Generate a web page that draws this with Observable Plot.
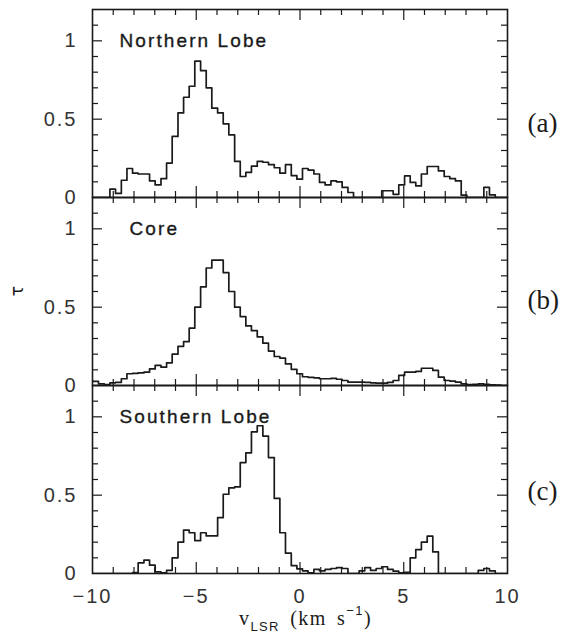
<!DOCTYPE html>
<html><head><meta charset="utf-8">
<script src="https://cdn.jsdelivr.net/npm/d3@7"></script>
<script src="https://cdn.jsdelivr.net/npm/@observablehq/plot@0.6"></script>
<style>body{margin:0;background:#fff}#chart svg{display:block}</style>
</head><body><div id="chart"></div>
<script>
// channel (bin) edges in km/s, last value closes the last bin
const velocityEdges = [-10.25,-9.98,-9.71,-9.43,-9.16,-8.89,-8.61,-8.34,-8.07,-7.80,-7.52,-7.25,-6.98,-6.70,-6.43,-6.16,-5.88,-5.61,-5.34,-5.07,-4.79,-4.52,-4.25,-3.97,-3.70,-3.43,-3.15,-2.88,-2.61,-2.34,-2.06,-1.79,-1.52,-1.24,-0.97,-0.70,-0.42,-0.15,0.12,0.39,0.67,0.94,1.21,1.49,1.76,2.03,2.31,2.58,2.85,3.12,3.40,3.67,3.94,4.22,4.49,4.76,5.04,5.31,5.58,5.85,6.13,6.40,6.67,6.95,7.22,7.49,7.77,8.04,8.31,8.59,8.86,9.13,9.41,9.68,9.95,10.22];
const tauNorth = [0,0,0,0,0.053,0.026,0.11,0.185,0.155,0.15,0.15,0.106,0.08,0.12,0.22,0.39,0.54,0.64,0.71,0.87,0.81,0.70,0.57,0.54,0.47,0.40,0.23,0.134,0.16,0.20,0.23,0.225,0.21,0.19,0.155,0.21,0.14,0.117,0.185,0.175,0.15,0.096,0.08,0.106,0.10,0.064,0.032,0,0,0,0,0,0.043,0.043,0.02,0.08,0.138,0.096,0.074,0.15,0.198,0.198,0.17,0.134,0.12,0.106,0.015,0,0,0,0.064,0.017,0,0,0];
const tauCore = [0.03,0.026,0.01,0.005,0.017,0.02,0.043,0.075,0.078,0.08,0.085,0.106,0.128,0.117,0.145,0.2,0.25,0.28,0.366,0.5,0.63,0.75,0.80,0.80,0.72,0.60,0.50,0.44,0.38,0.35,0.31,0.27,0.22,0.185,0.175,0.138,0.103,0.075,0.056,0.052,0.049,0.043,0.043,0.045,0.04,0.032,0.021,0.021,0.021,0.02,0.017,0.015,0.015,0.02,0.032,0.064,0.085,0.085,0.09,0.11,0.11,0.096,0.053,0.032,0.028,0.022,0.01,0.005,0.008,0.01,0.008,0.004,0.002,0,0];
const tauSouth = [0,0,0,0,0,0,0,0,0.006,0.068,0.085,0.053,0.01,0.004,0.02,0.1,0.2,0.277,0.26,0.21,0.26,0.24,0.24,0.357,0.506,0.547,0.553,0.708,0.77,0.904,0.943,0.877,0.74,0.479,0.26,0.13,0.05,0.03,0.017,0.004,0.026,0.017,0.026,0.032,0.038,0.032,0,0,0.017,0.038,0.02,0.032,0.043,0.026,0.015,0.004,0.008,0.1,0.153,0.2,0.238,0.138,0,0,0,0,0,0,0,0.02,0.032,0.017,0,0,0];

const panelKeys = ["a", "b", "c"];
const panelNames = ["Northern Lobe", "Core", "Southern Lobe"];
const panelTags = ["(a)", "(b)", "(c)"];
const xTickLabels = [-10, -5, 0, 5, 10];
const xTicksMajor = [-5, 0, 5];
const xTicksMinor = [-9, -8, -7, -6, -4, -3, -2, -1, 1, 2, 3, 4, 6, 7, 8, 9];
const yTickLabels = [0, 0.5, 1];
const yTicksMajor = [0.5, 1];
const yTicksMinor = [0.1, 0.2, 0.3, 0.4, 0.6, 0.7, 0.8, 0.9, 1.1];

// layout
const W = 576, H = 634, mL = 92, mR = 69, mT = 9, mB = 61;
const panelH = (H - mT - mB) / 3, plotW = W - mL - mR;
const ink = "#1a1a1a";

const seriesList = [tauNorth, tauCore, tauSouth];
const rows = [];
seriesList.forEach((s, p) => {
  velocityEdges.forEach((v, k) => {
    rows.push({panel: panelKeys[p], v, tau: s[Math.min(k, s.length - 1)]});
  });
});

const fmt = d => d < 0 ? "\u2212" + Math.abs(d) : String(d);

const marks = [
  Plot.line(rows, {x: "v", y: "tau", fy: "panel", curve: "step-after", stroke: ink, strokeWidth: 1.7, clip: true}),
  // inward ticks
  Plot.tickX(xTicksMinor, {x: d => d, insetTop: panelH - 6, stroke: ink, strokeWidth: 1.2}),
  Plot.tickX(xTicksMinor, {x: d => d, insetBottom: panelH - 6, stroke: ink, strokeWidth: 1.2}),
  Plot.tickX(xTicksMajor, {x: d => d, insetTop: panelH - 11, stroke: ink, strokeWidth: 1.2}),
  Plot.tickX(xTicksMajor, {x: d => d, insetBottom: panelH - 11, stroke: ink, strokeWidth: 1.2}),
  Plot.tickY(yTicksMinor, {y: d => d, insetRight: plotW - 6, stroke: ink, strokeWidth: 1.2}),
  Plot.tickY(yTicksMinor, {y: d => d, insetLeft: plotW - 6, stroke: ink, strokeWidth: 1.2}),
  Plot.tickY(yTicksMajor, {y: d => d, insetRight: plotW - 10, stroke: ink, strokeWidth: 1.2}),
  Plot.tickY(yTicksMajor, {y: d => d, insetLeft: plotW - 10, stroke: ink, strokeWidth: 1.2}),
  Plot.frame({stroke: ink, strokeWidth: 1.6}),
  Plot.axisX(xTickLabels, {tickSize: 0, tickPadding: 15, tickFormat: fmt, fontSize: 20, label: null, fill: "#333"}),
  Plot.axisY(yTickLabels, {tickSize: 0, tickPadding: 15, tickFormat: fmt, fontSize: 20, label: null, fill: "#333"})
];
const nameDx = [27, 37, 27];
const tagDy = [20, 9, 12];
panelKeys.forEach((k, i) => {
  marks.push(Plot.text([panelNames[i]], {fy: [k], frameAnchor: "top-left", textAnchor: "start", dx: nameDx[i], dy: 24, fontSize: 19, fill: ink, stroke: ink, strokeWidth: 0.35}));
  marks.push(Plot.text([panelTags[i]], {fy: [k], frameAnchor: "right", textAnchor: "start", dx: 20, dy: tagDy[i], fontSize: 27, fontFamily: "Liberation Serif, serif", fill: ink}));
});

const chart = Plot.plot({
  width: W, height: H,
  marginLeft: mL, marginRight: mR, marginTop: mT, marginBottom: mB,
  style: {fontFamily: "Liberation Sans, Arial, sans-serif", background: "#fff", color: ink},
  x: {domain: [-10, 10]},
  y: {domain: [0, 1.2]},
  fy: {domain: panelKeys, axis: null, paddingInner: 0, paddingOuter: 0},
  marks
});
document.getElementById("chart").appendChild(chart);

const svg = d3.select(chart);
const tickLabelSet = new Set([...xTickLabels, ...yTickLabels].map(fmt));
svg.selectAll("text").each(function () {
  const t = this.textContent;
  if (panelNames.includes(t)) d3.select(this).style("letter-spacing", "2.1px");
  else if (tickLabelSet.has(t)) d3.select(this).style("letter-spacing", "2px");
});

// y-axis title: tau (rotated)
svg.append("text")
  .attr("transform", "translate(18,291) rotate(-90)")
  .attr("text-anchor", "middle").attr("dy", "0.32em")
  .attr("font-family", "DejaVu Sans, sans-serif").attr("font-size", 17).attr("fill", ink)
  .text("\u03C4");

// x-axis title: v_LSR (km s^-1)
const xl = svg.append("text")
  .attr("x", 239).attr("y", 625).attr("text-anchor", "start")
  .attr("font-family", "Liberation Serif, serif").attr("font-size", 20).attr("fill", ink)
  .style("letter-spacing", "1.4px").style("word-spacing", "4px");
xl.append("tspan").text("v");
xl.append("tspan").attr("font-family", "Liberation Sans, sans-serif").attr("font-size", 13).attr("dy", 6).text("LSR");
xl.append("tspan").attr("dy", -6).text(" (km s");
xl.append("tspan").attr("font-family", "Liberation Sans, sans-serif").attr("font-size", 13).attr("dy", -10).text("\u22121");
xl.append("tspan").attr("dy", 10).text(")");
</script>
</body></html>
